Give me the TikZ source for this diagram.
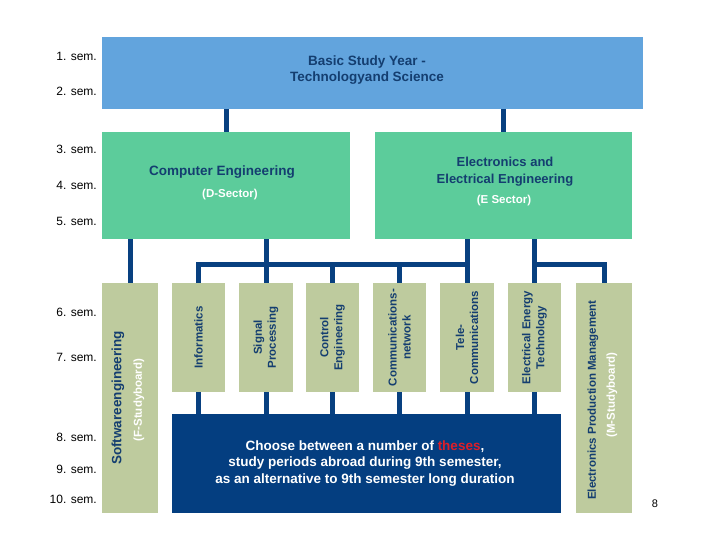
\documentclass[tikz,border=0pt]{standalone}
\usepackage{fontspec}
\setmainfont{Liberation Sans}
\definecolor{topblue}{RGB}{98,164,221}
\definecolor{boxgreen}{RGB}{92,204,155}
\definecolor{colgreen}{RGB}{190,203,158}
\definecolor{darkbox}{RGB}{4,62,128}
\definecolor{lineblue}{RGB}{8,64,128}
\definecolor{txtblue}{RGB}{20,62,112}
\definecolor{thesred}{RGB}{222,30,40}
\begin{document}
\begin{tikzpicture}[x=1pt,y=-1pt,
  box/.style={draw=none,inner sep=0pt,anchor=north west,outer sep=0pt},
  colbox/.style={box,fill=colgreen},
  conn/.style={draw=lineblue,line width=5pt},
  semlabel/.style={anchor=east,inner sep=0pt,font=\fontsize{12}{14}\selectfont,text=black},
  boxtext/.style={inner sep=0pt,align=center,text=txtblue,font=\bfseries\fontsize{13.5}{16.5}\selectfont},
  subtext/.style={inner sep=0pt,text=white,font=\bfseries\fontsize{11.5}{13}\selectfont},
  coltext/.style={inner sep=0pt,rotate=90,align=center,text=txtblue,font=\bfseries\fontsize{11.5}{14}\selectfont},
  colsub/.style={coltext,text=white},
  darktext/.style={inner sep=0pt,align=center,text=white,font=\bfseries\fontsize{13.5}{16.5}\selectfont}
]
\useasboundingbox (0,0) rectangle (720,540);
\fill[white] (0,0) rectangle (720,540);

% boxes
\node[box,fill=topblue,minimum width=541pt,minimum height=72pt] (basic) at (102,37) {};
\node[box,fill=boxgreen,minimum width=248pt,minimum height=107pt] (ce) at (102,132) {};
\node[box,fill=boxgreen,minimum width=257pt,minimum height=107pt] (eb) at (375,132) {};

\node[colbox,minimum width=56pt,minimum height=230pt] (sw) at (102,283) {};
\node[colbox,minimum width=53pt,minimum height=109pt] (inf) at (172,283) {};
\node[colbox,minimum width=54pt,minimum height=109pt] (sig) at (239,283) {};
\node[colbox,minimum width=53pt,minimum height=109pt] (ctl) at (306,283) {};
\node[colbox,minimum width=53pt,minimum height=109pt] (com) at (373,283) {};
\node[colbox,minimum width=54pt,minimum height=109pt] (tele) at (440,283) {};
\node[colbox,minimum width=53pt,minimum height=109pt] (ee) at (508,283) {};
\node[colbox,minimum width=56pt,minimum height=230pt] (epm) at (576,283) {};

\node[box,fill=darkbox,minimum width=389pt,minimum height=99pt] (dark) at (172,414) {};

% connectors
\coordinate (busy) at (0,264);
\draw[conn] (basic.south -| ce) -- (ce.north);
\draw[conn] (basic.south -| eb) -- (eb.north);
\draw[conn] (ce.south -| sw) -- (sw.north);
\draw[conn] (ce.south -| sig) -- (sig.north);
\draw[conn] (inf.north) |- (busy -| tele) -- (tele.north);
\draw[conn] (busy -| ctl) -- (ctl.north);
\draw[conn] (busy -| com) -- (com.north);
\draw[conn] (eb.south -| tele) -- (busy -| tele);
\draw[conn] (eb.south -| ee) -- (ee.north);
\draw[conn] (ee |- busy) -| (epm.north);
\foreach \c in {inf,sig,ctl,com,tele,ee}
  \draw[conn] (\c.south) -- (\c.south |- dark.north);

% texts
\node[boxtext] (basict) at (367,70) {Basic Study Year -\\Technologyand Science};
\node[boxtext] (cet) at (222,172) {Computer Engineering};
\node[subtext] (cesub) at (230,195) {(D-Sector)};
\node[boxtext,font=\bfseries\fontsize{13}{17}\selectfont] (ebt) at (505,171.5) {Electronics and\\Electrical Engineering};
\node[subtext] (ebsub) at (504,201) {(E Sector)};

\node[coltext,font=\bfseries\fontsize{13.5}{16}\selectfont] (swt) at (118,398) {Softwareengineering};
\node[colsub] (swsub) at (139,400) {(F-Studyboard)};
\node[coltext] (inft) at (inf.center) {Informatics};
\node[coltext] (sigt) at (sig.center) {Signal\\Processing};
\node[coltext] (ctlt) at (ctl.center) {Control\\Engineering};
\node[coltext] (comt) at (com.center) {Communications-\\network};
\node[coltext] (telet) at (tele.center) {Tele-\\Communications};
\node[coltext] (eet) at (ee.center) {Electrical Energy\\Technology};
\node[coltext] (epmt) at (593,400) {Electronics Production Management};
\node[colsub] (epmsub) at (612,395) {(M-Studyboard)};

\node[darktext] (darkt) at (365,463.5) {Choose between a number of \textcolor{thesred}{theses},\\study periods abroad during 9th semester,\\as an alternative to 9th semester long duration};

% semester labels
\node[semlabel] (s1) at (97,56) {1. sem.};
\node[semlabel] (s2) at (97,91) {2. sem.};
\node[semlabel] (s3) at (97,149) {3. sem.};
\node[semlabel] (s4) at (97,185) {4. sem.};
\node[semlabel] (s5) at (97,221) {5. sem.};
\node[semlabel] (s6) at (97,312) {6. sem.};
\node[semlabel] (s7) at (97,357) {7. sem.};
\node[semlabel] (s8) at (97,437) {8. sem.};
\node[semlabel] (s9) at (97,469) {9. sem.};
\node[semlabel] (s10) at (97,499) {10. sem.};

\node[inner sep=0pt,font=\fontsize{11}{13}\selectfont] (page) at (655,504) {8};
\end{tikzpicture}
\end{document}
